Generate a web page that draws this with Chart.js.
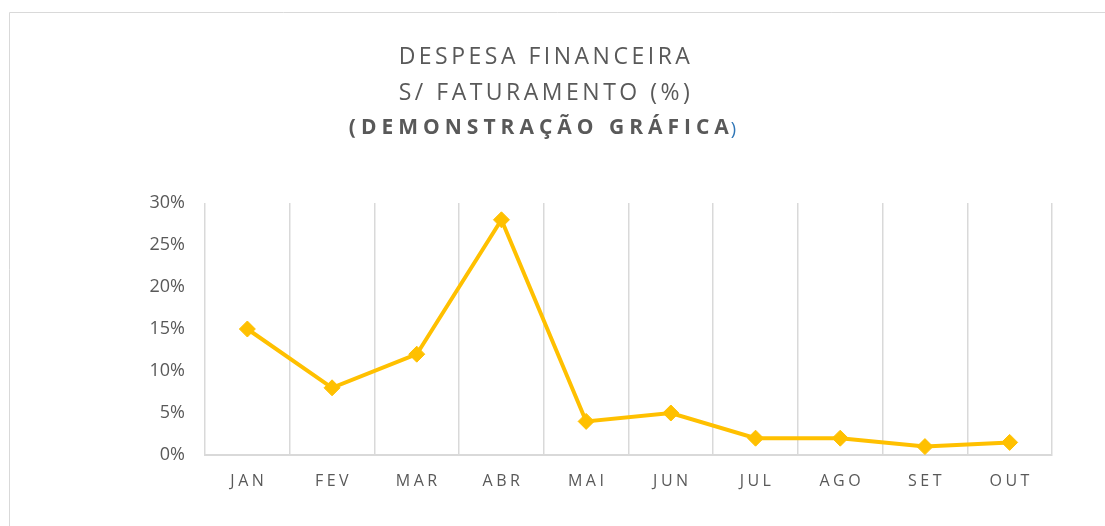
<!DOCTYPE html>
<html>
<head>
<meta charset="utf-8">
<script src="https://cdn.jsdelivr.net/npm/chart.js@4.4.1/dist/chart.umd.min.js"></script>
<style>
  html, body { margin: 0; padding: 0; background: #ffffff; }
</style>
</head>
<body>
<canvas id="grafico" width="1105" height="526"></canvas>
<script>
// dados do gráfico
const meses = ['JAN', 'FEV', 'MAR', 'ABR', 'MAI', 'JUN', 'JUL', 'AGO', 'SET', 'OUT'];
const despesaPct = [15, 8, 12, 28, 4, 5, 2, 2, 1, 1.5];
const ticksY = [0, 5, 10, 15, 20, 25, 30];
const tituloLinhas = ['DESPESA FINANCEIRA', 'S/ FATURAMENTO (%)', '(DEMONSTRAÇÃO GRÁFICA', ')'];

const cinza = '#595959';
const grade = '#d9d9d9';
const amarelo = '#FFC000';

// moldura, título e rótulos do eixo X (com espaçamento entre letras)
const extrasPlugin = {
  id: 'extras',
  beforeDraw(chart) {
    const ctx = chart.ctx;
    ctx.save();
    ctx.strokeStyle = grade;
    ctx.lineWidth = 1;
    ctx.beginPath();
    ctx.moveTo(9.5, 526);
    ctx.lineTo(9.5, 12.5);
    ctx.lineTo(1105, 12.5);
    ctx.stroke();
    ctx.restore();
  },
  afterDraw(chart) {
    const ctx = chart.ctx;
    const cx = 544;
    ctx.save();
    ctx.fillStyle = cinza;
    ctx.textAlign = 'center';
    ctx.textBaseline = 'middle';
    ctx.font = '23px "Open Sans"';
    ctx.letterSpacing = '3.5px';
    ctx.fillText(tituloLinhas[0], cx + 2, 57);
    ctx.fillText(tituloLinhas[1], cx + 2, 93);

    // terceira linha: negrito + parêntese azul
    ctx.font = 'bold 21px "Open Sans"';
    ctx.letterSpacing = '5px';
    ctx.textAlign = 'left';
    const w1 = ctx.measureText(tituloLinhas[2]).width;
    ctx.font = '18px "Open Sans"';
    ctx.letterSpacing = '0px';
    const w2 = ctx.measureText(tituloLinhas[3]).width;
    const x0 = cx - (w1 + w2) / 2;
    ctx.font = 'bold 21px "Open Sans"';
    ctx.letterSpacing = '5px';
    ctx.fillText(tituloLinhas[2], x0, 128);
    ctx.font = '18px "Open Sans"';
    ctx.letterSpacing = '0px';
    ctx.fillStyle = '#2E75B6';
    ctx.fillText(tituloLinhas[3], x0 + w1 - 3, 130);

    // rótulos do eixo X
    const xs = chart.scales.x;
    ctx.fillStyle = cinza;
    ctx.textAlign = 'center';
    ctx.font = '16px "Open Sans"';
    ctx.letterSpacing = '3.5px';
    meses.forEach((m, i) => {
      ctx.fillText(m, xs.getPixelForTick(i) + 1.5, 481);
    });
    ctx.restore();
  }
};

const ctx = document.getElementById('grafico').getContext('2d');
new Chart(ctx, {
  type: 'line',
  data: {
    labels: meses,
    datasets: [{
      label: 'Despesa financeira s/ faturamento',
      data: despesaPct,
      borderColor: amarelo,
      backgroundColor: amarelo,
      borderWidth: 4,
      pointStyle: 'rectRot',
      pointRadius: 8,
      pointHoverRadius: 8,
      pointBackgroundColor: amarelo,
      pointBorderColor: amarelo,
      pointBorderWidth: 1,
      tension: 0
    }]
  },
  options: {
    responsive: false,
    animation: false,
    devicePixelRatio: 1,
    layout: { padding: { top: 203, left: 0, right: 53, bottom: 0 } },
    plugins: {
      legend: { display: false },
      title: { display: false },
      tooltip: { enabled: false }
    },
    scales: {
      x: {
        offset: true,
        grid: { offset: true, color: grade, lineWidth: 1.5, drawTicks: false },
        border: { color: grade, width: 2 },
        ticks: { display: false },
        afterFit: (scale) => { scale.height = 71; }
      },
      y: {
        min: 0,
        max: 30,
        afterBuildTicks: (scale) => { scale.ticks = ticksY.map(v => ({ value: v })); },
        grid: { display: false, drawTicks: false },
        border: { display: false },
        ticks: {
          color: cinza,
          font: { family: 'Open Sans', size: 18 },
          padding: 20,
          callback: (v) => v + '%'
        },
        afterFit: (scale) => { scale.width = 205; }
      }
    }
  },
  plugins: [extrasPlugin]
});
</script>
</body>
</html>
